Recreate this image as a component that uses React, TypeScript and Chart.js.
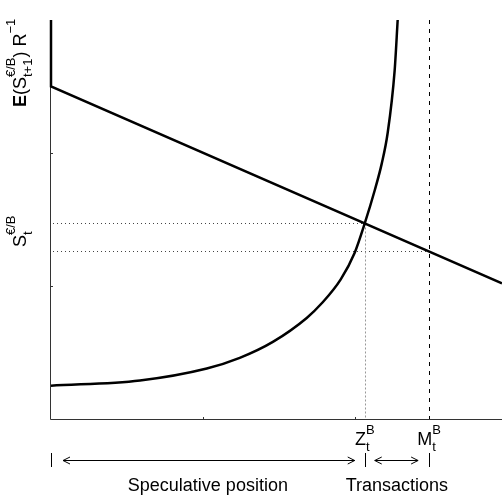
import React, { useEffect, useRef } from "react";
import { Chart, registerables } from "chart.js";

Chart.register(...registerables);

// Upward-sloping curve (speculative demand)
const curveX = [0, 0.586, 1.026, 1.243, 1.461, 1.684, 1.783, 1.908, 2.0, 2.066, 2.132, 2.178, 2.217, 2.263, 2.283];
const curveY = [0.25, 0.29, 0.38, 0.46, 0.58, 0.76, 0.87, 1.05, 1.25, 1.47, 1.72, 1.92, 2.15, 2.62, 3.0];

// Kinked downward-sloping line
const lineX = [0, 0, 2.97];
const lineY = [3.0, 2.5, 1.02];

// Marker positions
const zValue = 2.066; // Z_t^B
const mValue = 2.49; // M_t^B
const crossY = 1.47; // intersection level
const spotY = 1.26; // S_t level at M

const xTicks = [1, 2];
const yTicks = [1, 2];

const FONT = '"Liberation Sans", Arial, Helvetica, sans-serif';

type Part = { t?: string; sup?: string; sub?: string; size?: number; bold?: boolean; dy?: number };

function fontOf(size: number, bold?: boolean) {
  return `${bold ? "bold " : ""}${size}px ${FONT}`;
}

function drawRich(
  ctx: CanvasRenderingContext2D,
  x: number,
  y: number,
  parts: Part[],
  rotate: boolean,
  align: "left" | "center"
) {
  const SUP = 13;
  const widths = parts.map((p) => {
    if (p.t !== undefined) {
      ctx.font = fontOf(p.size || 18, p.bold);
      return ctx.measureText(p.t).width;
    }
    ctx.font = fontOf(SUP);
    return Math.max(ctx.measureText(p.sup || "").width, ctx.measureText(p.sub || "").width);
  });
  const total = widths.reduce((a, b) => a + b, 0);
  ctx.save();
  ctx.translate(x, y);
  if (rotate) ctx.rotate(-Math.PI / 2);
  ctx.fillStyle = "#000";
  ctx.textBaseline = "alphabetic";
  ctx.textAlign = "left";
  let cx = align === "center" ? -total / 2 : 0;
  parts.forEach((p, i) => {
    if (p.t !== undefined) {
      ctx.font = fontOf(p.size || 18, p.bold);
      ctx.fillText(p.t, cx, p.dy || 0);
    } else {
      ctx.font = fontOf(SUP);
      if (p.sup) ctx.fillText(p.sup, cx, -11);
      if (p.sub) ctx.fillText(p.sub, cx, 6);
    }
    cx += widths[i];
  });
  ctx.restore();
}

function arrow(ctx: CanvasRenderingContext2D, x1: number, x2: number, y: number) {
  ctx.beginPath();
  ctx.moveTo(x1, y);
  ctx.lineTo(x2, y);
  ctx.moveTo(x1 + 7, y - 3.5);
  ctx.lineTo(x1, y);
  ctx.lineTo(x1 + 7, y + 3.5);
  ctx.moveTo(x2 - 7, y - 3.5);
  ctx.lineTo(x2, y);
  ctx.lineTo(x2 - 7, y + 3.5);
  ctx.stroke();
}

const decor = {
  id: "decor",
  beforeDatasetsDraw(chart: any) {
    const ctx: CanvasRenderingContext2D = chart.ctx;
    const xs = chart.scales.x;
    const ys = chart.scales.y;
    const area = chart.chartArea;
    const x0 = xs.getPixelForValue(0);
    const y0 = ys.getPixelForValue(0);
    const zx = xs.getPixelForValue(zValue);
    const mx = xs.getPixelForValue(mValue);
    const cy = ys.getPixelForValue(crossY);
    const sy = ys.getPixelForValue(spotY);

    ctx.save();
    // axes
    ctx.strokeStyle = "#333";
    ctx.lineWidth = 1;
    ctx.beginPath();
    ctx.moveTo(x0 - 0.5, area.top);
    ctx.lineTo(x0 - 0.5, y0 + 0.5);
    ctx.lineTo(area.right, y0 + 0.5);
    ctx.stroke();
    // small ticks
    ctx.beginPath();
    xTicks.forEach((v) => {
      const px = Math.round(xs.getPixelForValue(v)) + 0.5;
      ctx.moveTo(px, y0);
      ctx.lineTo(px, y0 - 2);
    });
    yTicks.forEach((v) => {
      const py = Math.round(ys.getPixelForValue(v)) + 0.5;
      ctx.moveTo(x0, py);
      ctx.lineTo(x0 + 2, py);
    });
    ctx.stroke();

    // dotted horizontals
    ctx.strokeStyle = "#444";
    ctx.setLineDash([1, 3]);
    ctx.beginPath();
    ctx.moveTo(x0 + 2, Math.round(cy) + 0.5);
    ctx.lineTo(zx, Math.round(cy) + 0.5);
    ctx.moveTo(x0 + 2, Math.round(sy) + 0.5);
    ctx.lineTo(mx, Math.round(sy) + 0.5);
    ctx.stroke();
    // dotted vertical at Z
    ctx.strokeStyle = "#999";
    ctx.setLineDash([2, 2]);
    ctx.beginPath();
    ctx.moveTo(Math.round(zx) + 0.5, cy);
    ctx.lineTo(Math.round(zx) + 0.5, y0);
    ctx.stroke();
    // dashed vertical at M
    ctx.strokeStyle = "#000";
    ctx.setLineDash([4, 5]);
    ctx.beginPath();
    ctx.moveTo(Math.round(mx) + 0.5, area.top);
    ctx.lineTo(Math.round(mx) + 0.5, y0);
    ctx.stroke();
    ctx.setLineDash([]);

    // bottom bars and arrows
    const ay = 460;
    ctx.strokeStyle = "#000";
    ctx.lineWidth = 1;
    ctx.beginPath();
    [x0, zx, mx].forEach((px) => {
      const p = Math.round(px) + 0.5;
      ctx.moveTo(p, 453);
      ctx.lineTo(p, 467);
    });
    ctx.stroke();
    arrow(ctx, x0 + 12, zx - 10, ay + 0.5);
    arrow(ctx, zx + 10, mx - 11, ay + 0.5);

    // texts
    drawRich(ctx, zx, 445, [{ t: "Z" }, { sup: "B", sub: "t" }], false, "center");
    drawRich(ctx, mx, 445, [{ t: "M" }, { sup: "B", sub: "t" }], false, "center");
    drawRich(ctx, (x0 + zx) / 2, 491, [{ t: "Speculative position" }], false, "center");
    drawRich(ctx, (zx + mx) / 2, 491, [{ t: "Transactions" }], false, "center");

    drawRich(
      ctx,
      26,
      107,
      [
        { t: "E", bold: true },
        { t: "(" },
        { t: "S" },
        { sup: "\u20ac/B", sub: "t+1" },
        { t: ")" },
        { t: " R" },
        { t: "\u22121", size: 13, dy: -11 },
      ],
      true,
      "left"
    );
    drawRich(ctx, 26, 247, [{ t: "S" }, { sup: "\u20ac/B", sub: "t" }], true, "left");
    ctx.restore();
  },
};

export default function App() {
  const ref = useRef<HTMLCanvasElement>(null);
  useEffect(() => {
    if (!ref.current) return;
    const chart = new Chart(ref.current, {
      type: "scatter",
      data: {
        datasets: [
          {
            data: curveX.map((x, i) => ({ x, y: curveY[i] })),
            showLine: true,
            borderColor: "#000",
            borderWidth: 2.5,
            pointRadius: 0,
            cubicInterpolationMode: "monotone",
            clip: 6,
          } as any,
          {
            data: lineX.map((x, i) => ({ x, y: lineY[i] })),
            showLine: true,
            borderColor: "#000",
            borderWidth: 2.5,
            pointRadius: 0,
            tension: 0,
            clip: 6,
          } as any,
        ],
      },
      options: {
        animation: false,
        responsive: false,
        layout: { padding: { left: 51, top: 20, right: 0, bottom: 76 } },
        plugins: { legend: { display: false }, tooltip: { enabled: false } },
        scales: {
          x: { type: "linear", min: 0, max: 2.97, display: false },
          y: { type: "linear", min: 0, max: 3, display: false },
        },
      },
      plugins: [decor],
    });
    return () => chart.destroy();
  }, []);
  return (
    <div style={{ position: "fixed", left: 0, top: 0, width: 502, height: 495, background: "#fff" }}>
      <canvas ref={ref} width={502} height={495} style={{ display: "block" }} />
    </div>
  );
}
